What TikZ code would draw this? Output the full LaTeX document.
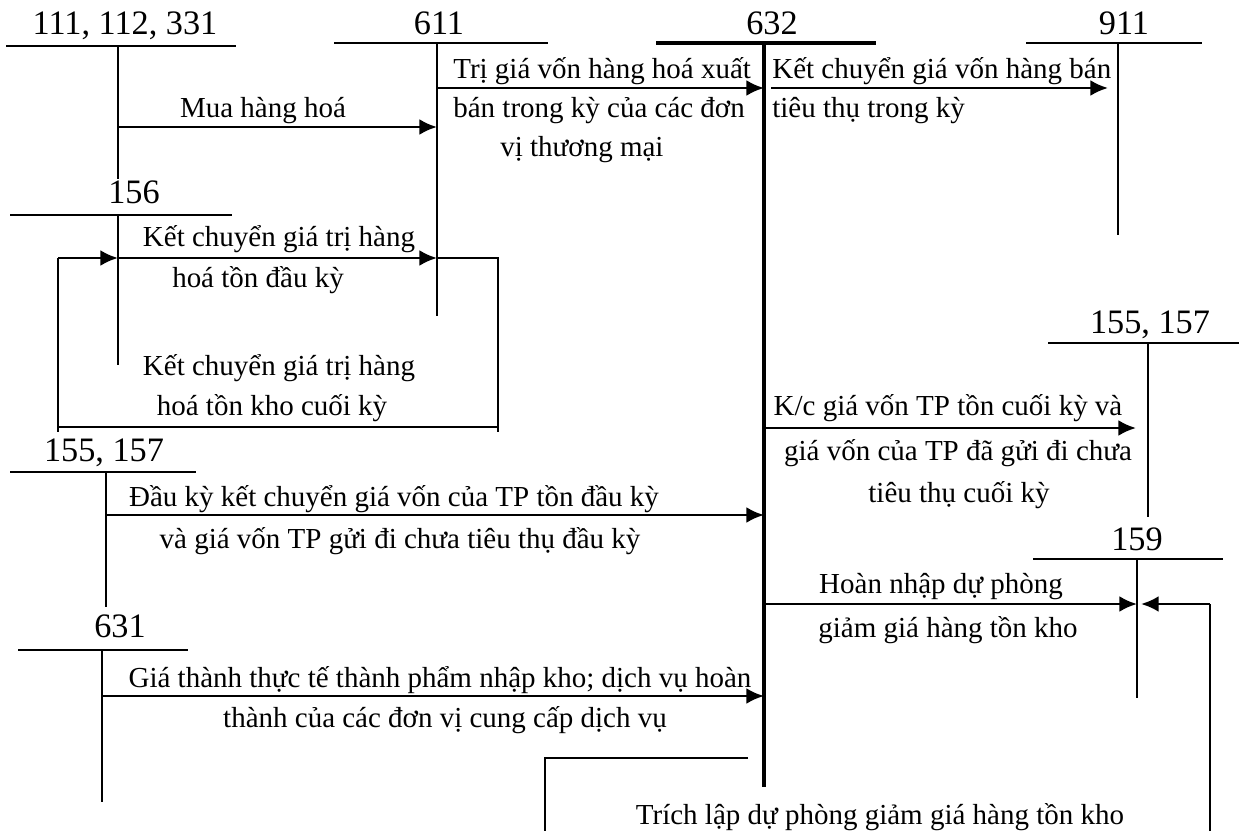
\documentclass[tikz,border=0pt]{standalone}
\usepackage{fontspec}
\setmainfont{Liberation Serif}
\usetikzlibrary{arrows.meta}

\tikzset{
  tacct/.style={line width=1.1pt},
  bolda/.style={line width=2.4pt},
  flow/.style={line width=1.5pt,-{Latex[length=10pt,width=9pt]}},
  link/.style={line width=1.3pt},
  accno/.style={font=\fontsize{19.5}{22}\selectfont,inner sep=0pt,anchor=base},
  note/.style={font=\fontsize{16.5}{20}\selectfont,inner sep=0pt,anchor=base},
}

\begin{document}
\begin{tikzpicture}[x=0.02cm,y=-0.02cm]
  \useasboundingbox (0,0) rectangle (1246,831);

  % T accounts: name/bar left/bar right/bar y/stem x/stem end
  \foreach \nm/\l/\r/\y/\s/\e in {a111/6/236/46/118/179, a611/334/548/43/437/316,
      a911/1026/1202/43/1118/235, a156/10/232/215/118/365, a155/10/196/472/106/607,
      a631/18/188/650/102/802, b155/1048/1239/343/1148/517, a159/1033/1223/559/1137/698}
  {
    \draw[tacct] (\l,\y) -- (\r,\y);
    \coordinate (\nm) at (\s,\y);
    \draw[tacct] (\nm) -- (\s,\e);
  }
  \draw[bolda] (656,43) -- (876,43);
  \coordinate (a632) at (764,43);
  \draw[bolda] (a632) -- (764,787);

  \node[accno] (n111) at (125,35) {111, 112, 331};
  \node[accno] (n611) at (439,35) {611};
  \node[accno] (n632) at (772,35) {632};
  \node[accno] (n911) at (1124,35) {911};
  \node[accno] (n156) at (134,203) {156};
  \node[accno] (n155) at (104,461) {155, 157};
  \node[accno] (n631) at (120,637) {631};
  \node[accno] (m155) at (1150,333) {155, 157};
  \node[accno] (n159) at (1137,550) {159};

  % purchases and transfers into 611
  \draw[flow] (a111 |- 0,127) -- (a611 |- 0,127);
  \node[note] (tMua) at (263,118) {Mua hàng hoá};
  \draw[flow] (a156 |- 0,258) -- (a611 |- 0,258);
  \node[note] (tDk1) at (279,246) {Kết chuyển giá trị hàng};
  \node[note] (tDk2) at (258,287) {hoá tồn đầu kỳ};

  % closing stock back to 156
  \coordinate (lpA) at (498,258);
  \coordinate (lpB) at (498,427);
  \coordinate (lpC) at (58,427);
  \coordinate (lpD) at (58,258);
  \draw[link] (a611 |- lpA) -- (lpA) -- (lpB) -- (lpC) -- (lpD);
  \draw[flow] (lpD) -- (a156 |- lpD);
  \draw[tacct] (lpB) -- +(0,5);
  \draw[tacct] (lpC) -- +(0,5);
  \node[note] (tCk1) at (279,375) {Kết chuyển giá trị hàng};
  \node[note] (tCk2) at (272,415) {hoá tồn kho cuối kỳ};

  % into 632
  \draw[flow] (a611 |- 0,88) -- (a632 |- 0,88);
  \node[note,anchor=base west] (tTr1) at (453,79) {Trị giá vốn hàng hoá xuất};
  \node[note,anchor=base west] (tTr2) at (453,118) {bán trong kỳ của các đơn};
  \node[note,anchor=base west] (tTr3) at (500,157) {vị thương mại};

  \draw[flow] (a155 |- 0,515) -- (a632 |- 0,515);
  \node[note] (tTp1) at (394,506) {Đầu kỳ kết chuyển giá vốn của TP tồn đầu kỳ};
  \node[note] (tTp2) at (400,548) {và giá vốn TP gửi đi chưa tiêu thụ đầu kỳ};

  \draw[flow] (a631 |- 0,696) -- (a632 |- 0,696);
  \node[note] (tGt1) at (440,687) {Giá thành thực tế thành phẩm nhập kho; dịch vụ hoàn};
  \node[note] (tGt2) at (445,727) {thành của các đơn vị cung cấp dịch vụ};

  % out of 632
  \coordinate (kcS) at (771,88);
  \coordinate (kcE) at (1108,88);
  \draw[flow] (kcS) -- (kcE);
  \node[note,anchor=base west] (tKc1) at (772,79) {Kết chuyển giá vốn hàng bán};
  \node[note,anchor=base west] (tKc2) at (772,118) {tiêu thụ trong kỳ};

  \coordinate (tpE) at (1136,428);
  \draw[flow] (a632 |- tpE) -- (tpE);
  \node[note] (tKt1) at (948,415) {K/c giá vốn TP tồn cuối kỳ và};
  \node[note] (tKt2) at (958,460) {giá vốn của TP đã gửi đi chưa};
  \node[note] (tKt3) at (959,502) {tiêu thụ cuối kỳ};

  \draw[flow] (a632 |- 0,604) -- (a159 |- 0,604);
  \node[note] (tHn1) at (941,593) {Hoàn nhập dự phòng};
  \node[note] (tHn2) at (948,637) {giảm giá hàng tồn kho};

  % provision loop
  \coordinate (pvA) at (1210,831);
  \coordinate (pvB) at (1210,604);
  \coordinate (pvC) at (1141,604);
  \draw[link] (pvA) -- (pvB);
  \draw[flow] (pvB) -- (pvC);
  \coordinate (pvD) at (748,758);
  \coordinate (pvE) at (545,758);
  \coordinate (pvF) at (545,831);
  \draw[link] (pvD) -- (pvE) -- (pvF);
  \node[note] (tTl) at (880,824) {Trích lập dự phòng giảm giá hàng tồn kho};
\end{tikzpicture}
\end{document}
